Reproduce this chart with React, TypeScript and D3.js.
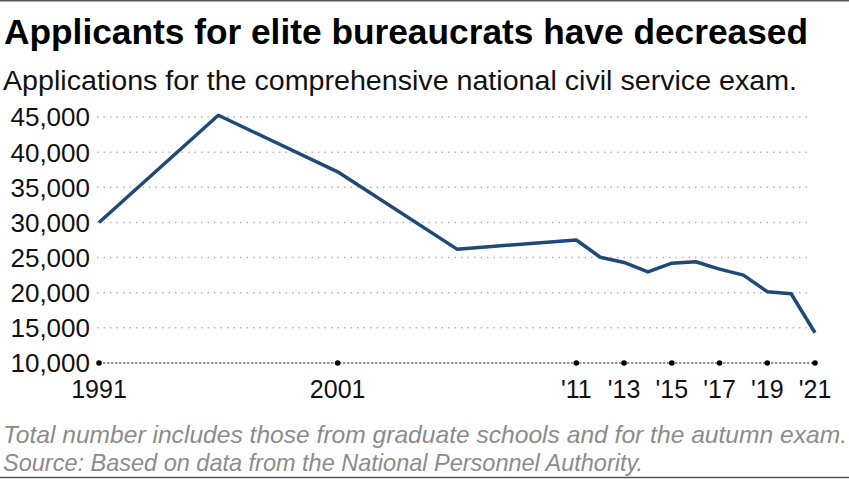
import React from "react";
import * as d3 from "d3";

const years = [1991, 1996, 2001, 2006, 2011, 2012, 2013, 2014, 2015, 2016, 2017, 2018, 2019, 2020, 2021];
const applicants = [30000, 45250, 37200, 26200, 27500, 25050, 24300, 22950, 24200, 24400, 23350, 22500, 20150, 19850, 14300];
const yTicks = [10000, 15000, 20000, 25000, 30000, 35000, 40000, 45000];
const xTicks = [1991, 2001, 2011, 2013, 2015, 2017, 2019, 2021];
const xTickLabels = ["1991", "2001", "'11", "'13", "'15", "'17", "'19", "'21"];

const title = "Applicants for elite bureaucrats have decreased";
const subtitle = "Applications for the comprehensive national civil service exam.";
const note1 = "Total number includes those from graduate schools and for the autumn exam.";
const note2 = "Source: Based on data from the National Personnel Authority.";

export default function App() {
  const W = 849, H = 479;
  const x = d3.scaleLinear().domain([1991, 2021]).range([99, 815]);
  const y = d3.scaleLinear().domain([10000, 45000]).range([363, 117]);
  const line = d3.line<number>().x((_, i) => x(years[i])).y((d) => y(d));
  const fmt = d3.format(",");
  const font = "'Liberation Sans', Arial, sans-serif";
  return (
    <svg width={W} height={H} style={{ position: "absolute", left: 0, top: 0, background: "#fff" }} fontFamily={font}>
      <rect x={0} y={0} width={W} height={H} fill="#fff" />
      <line x1={0} x2={W} y1={0.75} y2={0.75} stroke="#555" strokeWidth={1.5} />
      <line x1={0} x2={W} y1={477.5} y2={477.5} stroke="#555" strokeWidth={1.5} />
      <text x={4} y={44} fontSize={35} fontWeight="bold" fill="#000" textLength={804} lengthAdjust="spacingAndGlyphs">{title}</text>
      <text x={3} y={90} fontSize={27} fill="#111" textLength={794} lengthAdjust="spacingAndGlyphs">{subtitle}</text>
      {yTicks.filter((t) => t > 10000).map((t) => (
        <line key={t} x1={97} x2={812} y1={y(t)} y2={y(t)} stroke="#b5b5b5" strokeWidth={1.5} strokeDasharray="1.5,5" />
      ))}
      <line x1={99} x2={815} y1={y(10000)} y2={y(10000)} stroke="#777" strokeWidth={1.5} strokeDasharray="2.5,1.5" />
      {xTicks.map((t) => (
        <circle key={t} cx={x(t)} cy={y(10000)} r={2.8} fill="#000" />
      ))}
      {yTicks.map((t) => (
        <text key={t} x={90} y={y(t)} dy="0.36em" textAnchor="end" fontSize={26} fill="#111">{fmt(t)}</text>
      ))}
      {xTicks.map((t, i) => (
        <text key={t} x={x(t)} y={398} textAnchor="middle" fontSize={25} fill="#111">{xTickLabels[i]}</text>
      ))}
      <path d={line(applicants) || ""} fill="none" stroke="#1f4a78" strokeWidth={3.5} strokeLinejoin="round" />
      <text x={3} y={443} fontSize={24} fontStyle="italic" fill="#8c8c8c" textLength={844} lengthAdjust="spacingAndGlyphs">{note1}</text>
      <text x={3} y={471} fontSize={24} fontStyle="italic" fill="#8c8c8c" textLength={640} lengthAdjust="spacingAndGlyphs">{note2}</text>
    </svg>
  );
}
